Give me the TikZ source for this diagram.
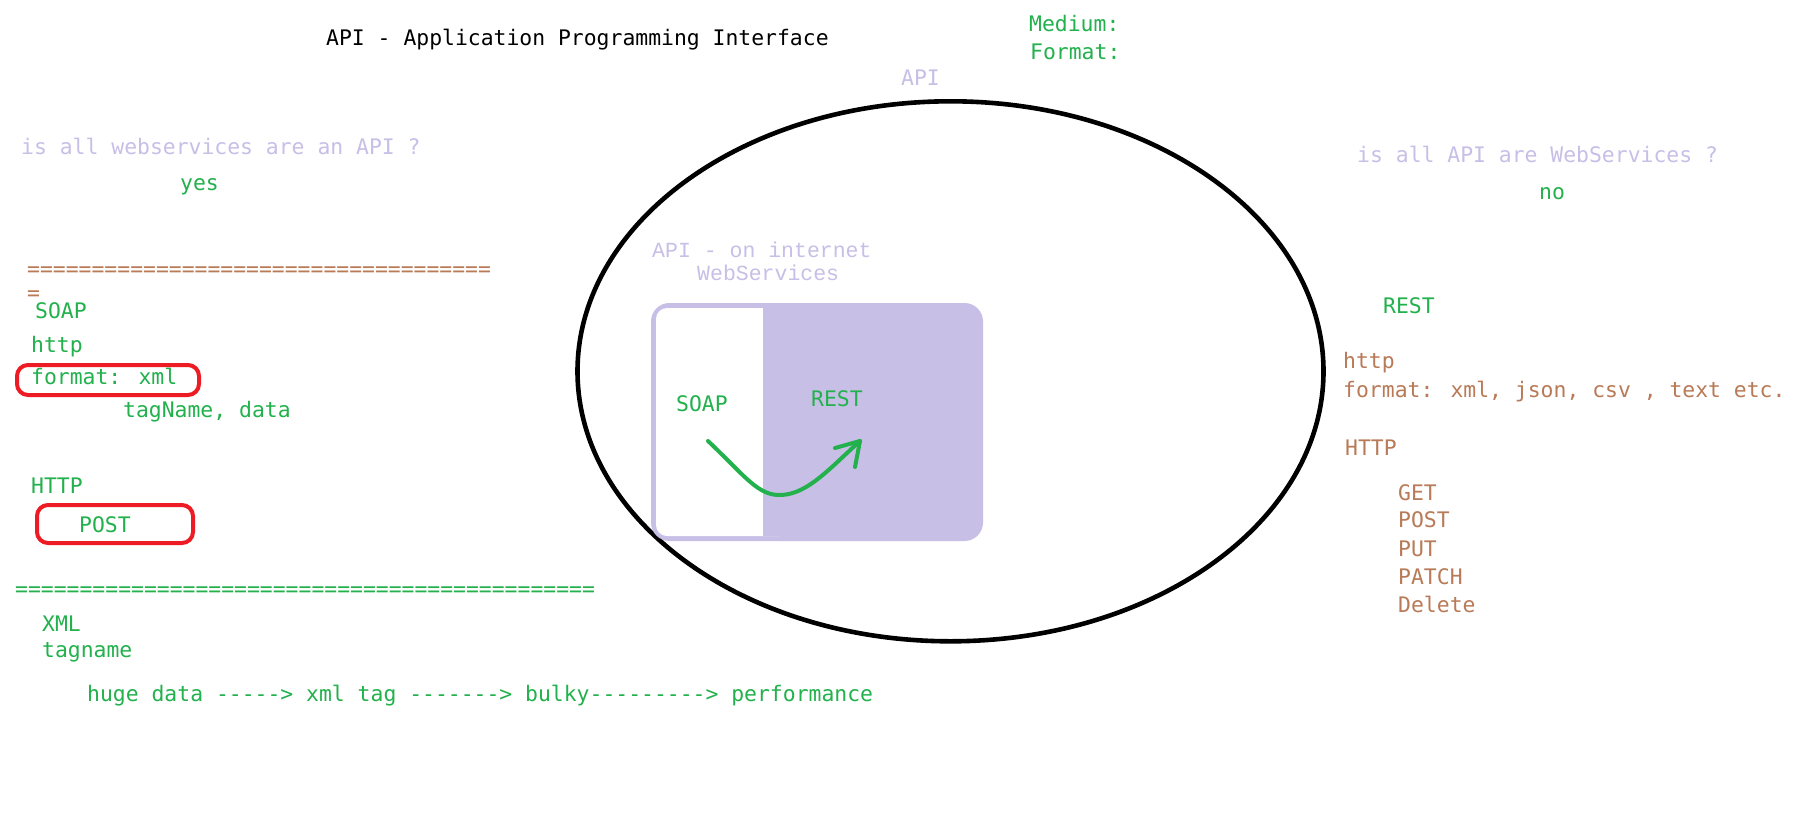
\documentclass[tikz,border=0pt]{standalone}
\usepackage{fontspec}
\newfontfamily\monof{DejaVu Sans Mono}
\newfontfamily\courf{Liberation Mono}
\definecolor{pgreen}{HTML}{22B14C}
\definecolor{pbrown}{HTML}{B97A57}
\definecolor{plav}{HTML}{C8BFE7}
\definecolor{pred}{HTML}{ED1C24}
\tikzset{
  txt/.style={anchor=base west, inner sep=0pt, font=\monof\fontsize{21.4pt}{25pt}\selectfont},
  ctxt/.style={anchor=base west, inner sep=0pt, font=\courf\fontsize{21.5pt}{25pt}\selectfont},
  grn/.style={text=pgreen},
  brn/.style={text=pbrown},
  lav/.style={text=plav},
  redbox/.style={draw=pred, line width=4pt, rounded corners=11pt},
  flow/.style={draw=pgreen, line width=4pt, line cap=round, line join=round}
}
\begin{document}
\begin{tikzpicture}[x=1pt,y=-1pt]
\useasboundingbox (0,0) rectangle (1814,827);
\fill[white] (0,0) rectangle (1814,827);

% title and header
\node[txt] (title) at (326,45) {API - Application Programming Interface};
\node[txt,grn] (medium) at (1029,31) {Medium:};
\node[txt,grn] (format) at (1030,59) {Format:};
\node[txt,lav] (apilbl) at (901,85) {API};

% ellipse
\draw[line width=4.6pt] (950.5,371.3) ellipse [x radius=373pt, y radius=270pt];

% left column
\node[txt,lav] (q1) at (21,154) {is all webservices are an API ?};
\node[txt,grn] (yes) at (180,190) {yes};
\node[txt,brn] (eqa) at (27,276) {====================================};
\node[txt,brn] (eqb) at (27,300) {=};
\node[txt,grn] (soapl) at (35,318) {SOAP};
\node[txt,grn] (httpl) at (31,352) {http};
\node[txt,grn] (fmtl) at (31,384) {format: xml};
\node[txt,grn] (tagl) at (123,417) {tagName, data};
\node[txt,grn] (HTTPl) at (31,493) {HTTP};
\node[txt,grn] (postl) at (79,532) {POST};
\draw[redbox] (17,365) rectangle (199,395);
\draw[redbox] (37,505) rectangle (193,543);
\node[txt,grn] (eqc) at (15,596) {=============================================};
\node[txt,grn] (xmll) at (42,631) {XML};
\node[txt,grn] (tagnamel) at (42,657) {tagname};
\node[txt,grn] (huge) at (87,701) {huge data -{}-{}-{}-{}-> xml tag -{}-{}-{}-{}-{}-{}-> bulky-{}-{}-{}-{}-{}-{}-{}-{}-> performance};

% middle box
\node[ctxt,lav] (onnet) at (652,257) {API - on internet};
\node[ctxt,lav] (ws) at (697,280) {WebServices};
\draw[draw=plav, fill=plav, line width=5pt, rounded corners=16pt] (653.5,305.5) rectangle (980.5,538.5);
\fill[white, rounded corners=11pt] (656,308) rectangle (790,536);
\fill[plav] (763,308) rectangle (800,536);
\node[txt,grn] (soapm) at (676,411) {SOAP};
\node[txt,grn] (restm) at (811,406) {REST};
\coordinate (fa) at (708,441);
\coordinate (fb) at (781,495);
\coordinate (fc) at (860,441);
\coordinate (h1) at (835,448);
\coordinate (h2) at (855,467);
\draw[flow] (fa) .. controls (745,476) and (758,496) .. (fb) .. controls (808,494) and (830,468) .. (fc);
\draw[flow] (h1) -- (fc) -- (h2);

% right column
\node[txt,lav] (q2) at (1357,162) {is all API are WebServices ?};
\node[txt,grn] (no) at (1539,199) {no};
\node[txt,grn] (restr) at (1383,313) {REST};
\node[txt,brn] (httpr) at (1343,368) {http};
\node[txt,brn] (fmtr) at (1343,397) {format: xml, json, csv , text etc.};
\node[txt,brn] (HTTPr) at (1345,455) {HTTP};
\node[txt,brn] (get) at (1398,500) {GET};
\node[txt,brn] (postr) at (1398,527) {POST};
\node[txt,brn] (put) at (1398,556) {PUT};
\node[txt,brn] (patch) at (1398,584) {PATCH};
\node[txt,brn] (del) at (1398,612) {Delete};
\end{tikzpicture}
\end{document}
